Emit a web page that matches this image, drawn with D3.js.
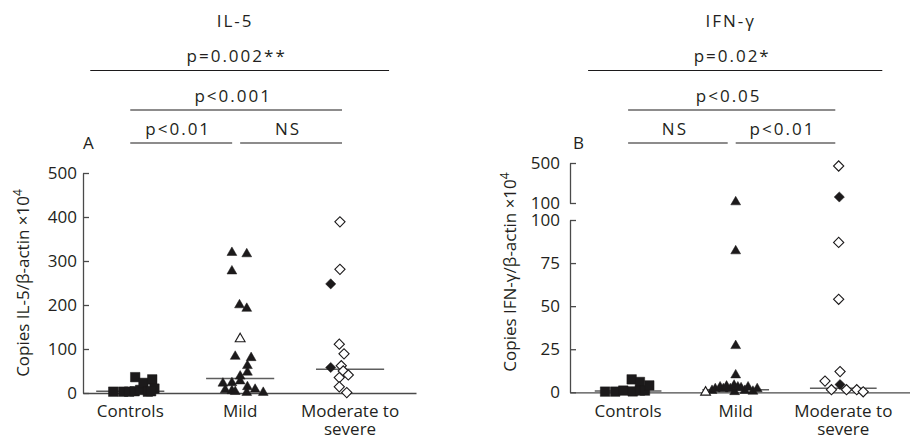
<!DOCTYPE html>
<html>
<head>
<meta charset="utf-8">
<script src="https://cdn.jsdelivr.net/npm/d3@7"></script>
<style>
  body { margin: 0; background: #fff; }
  svg text { font-family: "Open Sans", sans-serif; fill: #231f20; }
</style>
</head>
<body>
<div id="chart"></div>
<script>
// group labels (split into lines)
const groupLines = [["Controls"], ["Mild"], ["Moderate to", "severe"]];

// IL-5 panel, each point is [value, jitter in group units]
const il5Controls = [[3, -0.155], [3, -0.065], [3, -0.01], [4, 0.04], [36, 0.045], [7, 0.09],
    [23, 0.12], [3, 0.16], [31, 0.2], [10, 0.22], [4, 0.19]];
const il5Mild = [[319, -0.075], [316, 0.06], [277, -0.075], [200, -0.006], [192, 0.06], [83, -0.045],
    [80, 0.1], [62, 0.066], [47, 0.066], [38, 0], [27, 0], [22, -0.157], [23, -0.075], [7, -0.136],
    [5, -0.075], [3, -0.045], [14, 0.066], [1, 0.06], [8, 0.136], [1, 0.21]];
const il5MildOpen = [[123, 0]];
const il5Moderate = [[389, -0.092], [281, -0.092], [111, -0.098], [89, -0.055], [62, -0.08], [50, -0.062],
    [41, -0.016], [35, -0.098], [14, -0.098], [1, -0.03]];
const il5ModerateFilled = [[248, -0.176], [58, -0.176]];
const il5Medians = [4, 33, 54];
const il5Ticks = [0, 100, 200, 300, 400, 500];
// [label, from group, to group, level]
const il5Stats = [["p=0.002**", 0, 2, 0], ["p<0.001", 0, 2, 1], ["p<0.01", 0, 1, 2], ["NS", 1, 2, 2]];

// IFN-gamma panel
const ifnControls = [[0.4, -0.214], [0.4, -0.12], [1, -0.045], [7.5, 0.033], [0.5, 0.043], [6, 0.11],
    [1, 0.11], [1, 0.157], [4, 0.197]];
const ifnMild = [[110, 0], [82, 0], [27, 0], [10, 0], [1, -0.22], [2, -0.19], [3, -0.145], [2, -0.115],
    [3.5, -0.085], [2, -0.05], [4, -0.015], [0.3, -0.01], [3, 0.02], [2.5, 0.05], [1, 0.085],
    [3, 0.115], [0.5, 0.16], [2, 0.2]];
const ifnMildOpen = [[0, -0.28]];
const ifnModerate = [[470, -0.043], [87, -0.043], [54, -0.043], [12, -0.03], [6.5, -0.17], [1.5, -0.11],
    [1.5, 0.03], [1.5, 0.125], [0.3, 0.185]];
const ifnModerateFilled = [[160, -0.037], [4.5, -0.03]];
const ifnMedians = [0.8, 1.5, 2.3];
const ifnTicksLow = [0, 25, 50, 75, 100];
const ifnTicksHigh = [100, 500];
const ifnStats = [["p=0.02*", 0, 2, 0], ["p<0.05", 0, 2, 1], ["NS", 0, 1, 2], ["p<0.01", 1, 2, 2]];

const width = 910, height = 440;
const ink = "#1c1a1b";
const axisColor = "#4a4a4a";

const svg = d3.select("#chart")
    .append("svg")
    .attr("width", width)
    .attr("height", height);

// marker shapes
const squarePath = d3.symbol().type(d3.symbolSquare).size(90)();
const trianglePath = d3.symbol().type(d3.symbolTriangle).size(42)();
const diamondPath = d3.symbol().type(d3.symbolSquare).size(52)();

function styleAxis(g, fontSize) {
    g.select(".domain").attr("stroke", axisColor).attr("stroke-width", 1.3);
    g.selectAll(".tick line").attr("stroke", axisColor).attr("stroke-width", 1.3);
    g.selectAll(".tick text")
        .attr("fill", "#231f20")
        .style("font-family", "'Open Sans', sans-serif")
        .style("font-size", fontSize + "px");
}

function drawPanel(cfg) {
    const g = svg.append("g");
    const x = d3.scaleLinear().domain(cfg.xDomain).range([cfg.left, cfg.right]);
    const y = cfg.y;
    const y0 = y(0);

    // y axes
    cfg.yAxes.forEach(a => {
        g.append("g")
            .attr("transform", `translate(${cfg.left},0)`)
            .call(d3.axisLeft(a.scale).tickValues(a.ticks).tickSize(-6).tickSizeOuter(0)
                .tickPadding(cfg.tickPad).tickFormat(d3.format("d")))
            .call(s => styleAxis(s, 17));
    });

    // x axis (baseline only)
    g.append("g")
        .attr("transform", `translate(0,${y0})`)
        .call(d3.axisBottom(x).tickValues([]).tickSizeOuter(0))
        .call(s => styleAxis(s, 17));

    // category labels
    groupLines.forEach((lines, i) => {
        const t = g.append("text")
            .attr("x", x(i))
            .attr("y", 417)
            .attr("text-anchor", "middle")
            .style("font-size", "17px");
        lines.forEach((line, k) => {
            t.append("tspan").attr("x", x(i)).attr("dy", k === 0 ? 0 : 18).text(line);
        });
    });

    // medians
    g.selectAll(".median")
        .data(cfg.medians)
        .enter()
        .append("line")
        .attr("x1", (d, i) => x(i - 0.31))
        .attr("x2", (d, i) => x(i + 0.31))
        .attr("y1", d => y(d))
        .attr("y2", d => y(d))
        .attr("stroke", "#5e5e5e")
        .attr("stroke-width", 1.5);

    // points
    cfg.series.forEach(s => {
        g.append("g")
            .selectAll("path")
            .data(s.data)
            .enter()
            .append("path")
            .attr("d", s.shape)
            .attr("transform", d => `translate(${x(s.group + d[1])},${y(d[0])})` + (s.rotate ? " rotate(45)" : ""))
            .attr("fill", s.filled ? ink : "#fff")
            .attr("stroke", ink)
            .attr("stroke-width", s.filled ? 0.5 : 1.1);
    });

    // significance brackets
    const lineY = [70.5, 110, 143];
    cfg.stats.forEach(([label, a, b, level]) => {
        const x1 = level === 0 ? x(a) - 40 : x(a);
        const x2 = level === 0 ? x(b) + 39 : x(b) - 8;
        g.append("line")
            .attr("x1", x1).attr("x2", x2)
            .attr("y1", lineY[level]).attr("y2", lineY[level])
            .attr("stroke", ink)
            .attr("stroke-width", 1.1);
        g.append("text")
            .attr("x", (x1 + x2) / 2 - 3)
            .attr("y", lineY[level] - 8.5)
            .attr("text-anchor", "middle")
            .style("font-size", "17px")
            .style("letter-spacing", "2px")
            .text(label);
    });

    // title
    g.append("text")
        .attr("x", x(1) - 5)
        .attr("y", 27)
        .attr("text-anchor", "middle")
        .style("font-size", "17px")
        .style("letter-spacing", "2px")
        .text(cfg.title);

    // panel letter
    g.append("text")
        .attr("x", cfg.left + cfg.letterDx)
        .attr("y", 149)
        .style("font-size", "17px")
        .text(cfg.letter);

    // y axis title
    const yt = g.append("text")
        .attr("transform", `translate(${cfg.yTitleX},${cfg.yTitleY}) rotate(-90)`)
        .attr("text-anchor", "middle")
        .style("font-size", "17px");
    yt.append("tspan").text(cfg.yTitle);
    yt.append("tspan").attr("dy", -7).style("font-size", "12px").text("4");
}

// Panel A: IL-5
const yA = d3.scaleLinear().domain([0, 500]).range([393, 173]);
drawPanel({
    left: 83, right: 416, xDomain: [-0.43, 2.6],
    y: yA,
    yAxes: [{ scale: yA, ticks: il5Ticks }],
    tickPad: 6,
    medians: il5Medians,
    series: [
        { data: il5Controls, group: 0, shape: squarePath, filled: true },
        { data: il5Mild, group: 1, shape: trianglePath, filled: true },
        { data: il5MildOpen, group: 1, shape: trianglePath, filled: false },
        { data: il5Moderate, group: 2, shape: diamondPath, filled: false, rotate: true },
        { data: il5ModerateFilled, group: 2, shape: diamondPath, filled: true, rotate: true }
    ],
    stats: il5Stats,
    title: "IL-5",
    letter: "A", letterDx: 0,
    yTitle: "Copies IL-5/β-actin ×10",
    yTitleX: 29, yTitleY: 283
});

// Panel B: IFN-gamma, broken y axis
const yLow = d3.scaleLinear().domain([0, 100]).range([392.3, 220]);
const yHigh = d3.scaleLinear().domain([100, 500]).range([203, 163]);
const yB = v => (v > 100 ? yHigh(v) : yLow(v));
drawPanel({
    left: 570, right: 910, xDomain: [-0.54, 2.62],
    y: yB,
    yAxes: [{ scale: yLow, ticks: ifnTicksLow }, { scale: yHigh, ticks: ifnTicksHigh }],
    tickPad: 10,
    medians: ifnMedians,
    series: [
        { data: ifnControls, group: 0, shape: squarePath, filled: true },
        { data: ifnMild, group: 1, shape: trianglePath, filled: true },
        { data: ifnMildOpen, group: 1, shape: trianglePath, filled: false },
        { data: ifnModerate, group: 2, shape: diamondPath, filled: false, rotate: true },
        { data: ifnModerateFilled, group: 2, shape: diamondPath, filled: true, rotate: true }
    ],
    stats: ifnStats,
    title: "IFN-γ",
    letter: "B", letterDx: 3,
    yTitle: "Copies IFN-γ/β-actin ×10",
    yTitleX: 516, yTitleY: 272
});
</script>
</body>
</html>
